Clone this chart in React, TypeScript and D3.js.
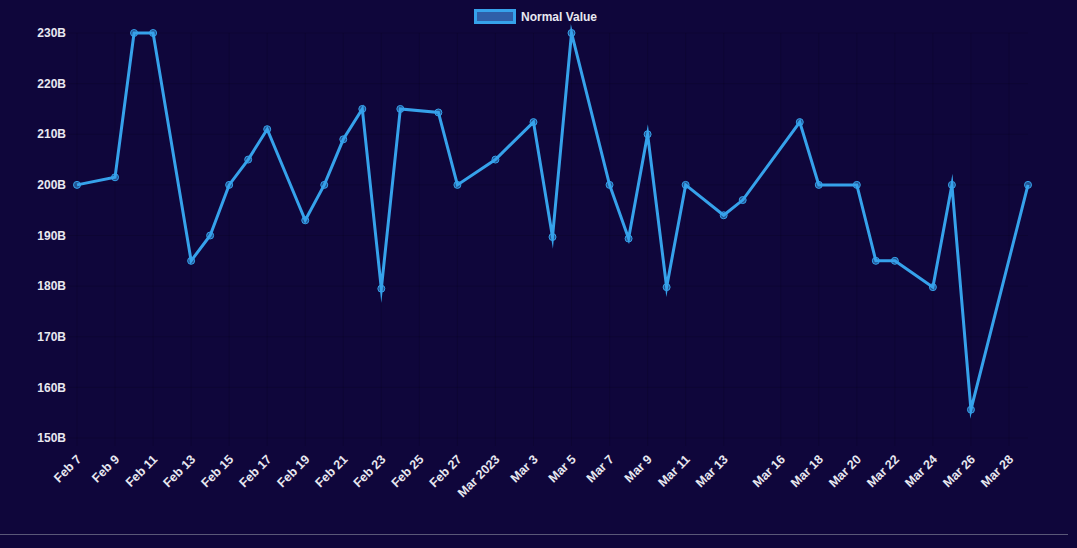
import React, { useEffect, useRef } from "react";
import * as d3 from "d3";

// data (values in billions)
const dates = [
  "2023-02-07", "2023-02-09", "2023-02-10", "2023-02-11", "2023-02-13", "2023-02-14",
  "2023-02-15", "2023-02-16", "2023-02-17", "2023-02-19", "2023-02-20", "2023-02-21",
  "2023-02-22", "2023-02-23", "2023-02-24", "2023-02-26", "2023-02-27", "2023-03-01",
  "2023-03-03", "2023-03-04", "2023-03-05", "2023-03-07", "2023-03-08", "2023-03-09",
  "2023-03-10", "2023-03-11", "2023-03-13", "2023-03-14", "2023-03-17", "2023-03-18",
  "2023-03-20", "2023-03-21", "2023-03-22", "2023-03-24", "2023-03-25", "2023-03-26",
  "2023-03-29",
];
const normalValues = [
  200, 201.5, 230, 230, 185, 190,
  200, 205, 211, 193, 200, 209,
  215, 179.5, 215, 214.3, 200, 205,
  212.4, 189.7, 230, 200, 189.4, 210,
  179.8, 200, 194, 197, 212.4, 200,
  200, 185, 185, 179.8, 200, 155.6,
  200,
];
const tickDates = [
  "2023-02-07", "2023-02-09", "2023-02-11", "2023-02-13", "2023-02-15", "2023-02-17",
  "2023-02-19", "2023-02-21", "2023-02-23", "2023-02-25", "2023-02-27", "2023-03-01",
  "2023-03-03", "2023-03-05", "2023-03-07", "2023-03-09", "2023-03-11", "2023-03-13",
  "2023-03-16", "2023-03-18", "2023-03-20", "2023-03-22", "2023-03-24", "2023-03-26",
  "2023-03-28",
];
const tickLabels = [
  "Feb 7", "Feb 9", "Feb 11", "Feb 13", "Feb 15", "Feb 17",
  "Feb 19", "Feb 21", "Feb 23", "Feb 25", "Feb 27", "Mar 2023",
  "Mar 3", "Mar 5", "Mar 7", "Mar 9", "Mar 11", "Mar 13",
  "Mar 16", "Mar 18", "Mar 20", "Mar 22", "Mar 24", "Mar 26",
  "Mar 28",
];
const yTicks = [150, 160, 170, 180, 190, 200, 210, 220, 230];
const seriesName = "Normal Value";

const App = () => {
  const ref = useRef<SVGSVGElement>(null);

  useEffect(() => {
    const width = 1077;
    const height = 548;
    const bg = "#0f063b";
    const lineColor = "#36a2eb";
    const textColor = "#e8e8f0";
    const font = "'Liberation Sans', Arial, sans-serif";

    const svg = d3.select(ref.current);
    svg.selectAll("*").remove();

    svg.append("rect").attr("width", width).attr("height", height).attr("fill", bg);

    const parse = d3.utcParse("%Y-%m-%d");
    const data = dates.map((d, i) => ({ date: parse(d)!, value: normalValues[i] }));

    const x = d3
      .scaleUtc()
      .domain([parse("2023-02-07")!, parse("2023-03-29")!])
      .range([77, 1028]);
    const y = d3.scaleLinear().domain([150, 230]).range([438, 33]);

    // grid lines (chart.js default look)
    const grid = svg.append("g").attr("stroke", "rgba(0,0,0,0.12)").attr("stroke-width", 1);
    yTicks.forEach((t) => {
      grid.append("line")
        .attr("x1", 69).attr("x2", 1028)
        .attr("y1", y(t)).attr("y2", y(t));
    });
    tickDates.forEach((t) => {
      const xx = x(parse(t)!);
      grid.append("line")
        .attr("x1", xx).attr("x2", xx)
        .attr("y1", 33).attr("y2", 446);
    });

    // y labels
    svg.append("g")
      .selectAll("text")
      .data(yTicks)
      .join("text")
      .attr("x", 66)
      .attr("y", (d) => y(d))
      .attr("dy", "0.35em")
      .attr("text-anchor", "end")
      .attr("fill", textColor)
      .attr("font-family", font)
      .attr("font-weight", "bold")
      .attr("font-size", 12)
      .text((d) => `${d}B`);

    // x labels, rotated 45deg
    svg.append("g")
      .selectAll("text")
      .data(tickDates)
      .join("text")
      .attr("transform", (d) => `translate(${x(parse(d)!) + 2},${457}) rotate(-45)`)
      .attr("text-anchor", "end")
      .attr("dy", "0.35em")
      .attr("fill", textColor)
      .attr("font-family", font)
      .attr("font-weight", "bold")
      .attr("font-size", 12.5)
      .text((d, i) => tickLabels[i]);

    // line
    const line = d3
      .line<{ date: Date; value: number }>()
      .x((d) => x(d.date))
      .y((d) => y(d.value));

    svg.append("path")
      .datum(data)
      .attr("d", line)
      .attr("fill", "none")
      .attr("stroke", lineColor)
      .attr("stroke-width", 3)
      .attr("stroke-linejoin", "miter")
      .attr("stroke-miterlimit", 10);

    svg.append("g")
      .selectAll("circle")
      .data(data)
      .join("circle")
      .attr("cx", (d) => x(d.date))
      .attr("cy", (d) => y(d.value))
      .attr("r", 3.5)
      .attr("fill", "rgba(54,162,235,0.5)")
      .attr("stroke", lineColor)
      .attr("stroke-width", 1);

    // legend
    svg.append("rect")
      .attr("x", 475.5).attr("y", 10.5)
      .attr("width", 39).attr("height", 12)
      .attr("fill", "#2f5fa8")
      .attr("stroke", lineColor)
      .attr("stroke-width", 3);
    svg.append("text")
      .attr("x", 521).attr("y", 17)
      .attr("dy", "0.35em")
      .attr("fill", textColor)
      .attr("font-family", font)
      .attr("font-weight", "bold")
      .attr("font-size", 12)
      .text(seriesName);

    // bottom separator
    svg.append("line")
      .attr("x1", 0).attr("x2", 1068)
      .attr("y1", 534.5).attr("y2", 534.5)
      .attr("stroke", "#5a5878")
      .attr("stroke-width", 1);
  }, []);

  return (
    <div style={{ position: "fixed", left: 0, top: 0 }}>
      <svg ref={ref} width={1077} height={548} style={{ display: "block" }} />
    </div>
  );
};

export default App;
